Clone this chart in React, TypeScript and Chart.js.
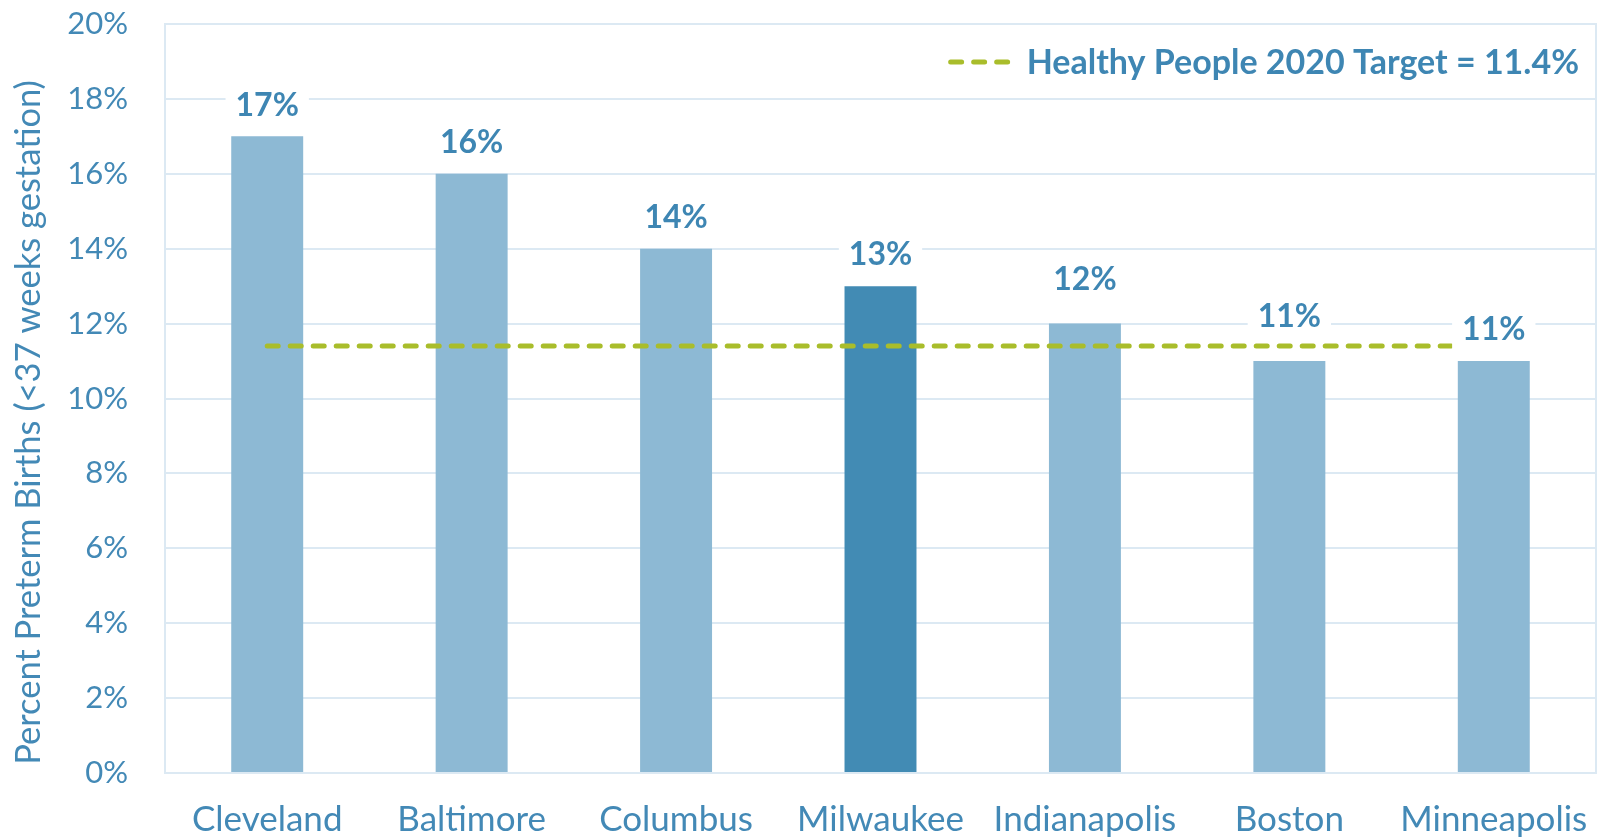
import React, { useEffect, useRef } from "react";
import { Chart, registerables } from "chart.js";

Chart.register(...registerables);

// ---- data ----
const CITIES = ["Cleveland", "Baltimore", "Columbus", "Milwaukee", "Indianapolis", "Boston", "Minneapolis"];
const PRETERM_PCT = [17, 16, 14, 13, 12, 11, 11];
const TARGET_PCT = 11.4;
const TARGET_LABEL = "Healthy People 2020 Target = 11.4%";
const HIGHLIGHT_CITY = "Milwaukee";
const Y_TITLE = "Percent Preterm Births (<37 weeks gestation)";
const Y_MIN = 0;
const Y_MAX = 20;
const Y_STEP = 2;

// ---- styles ----
const FONT = "Lato, 'Open Sans', 'DejaVu Sans', sans-serif";
const TEXT_COLOR = "#4389B6";
const LABEL_COLOR = "#3E86B3";
const BAR_LIGHT = "#8DB9D4";
const BAR_DARK = "#428BB4";
const GRID_COLOR = "#DCE9F3";
const TARGET_COLOR = "#A9BD2B";

const framePlugin = {
  id: "frame",
  beforeDatasetsDraw(chart: any) {
    const { ctx, chartArea } = chart;
    ctx.save();
    ctx.strokeStyle = GRID_COLOR;
    ctx.lineWidth = 2;
    ctx.strokeRect(chartArea.left, chartArea.top, chartArea.right - chartArea.left, chartArea.bottom - chartArea.top);
    ctx.restore();
  },
};

const yTitlePlugin = {
  id: "yTitle",
  afterDraw(chart: any) {
    const { ctx, chartArea } = chart;
    ctx.save();
    ctx.font = `34.5px ${FONT}`;
    ctx.fillStyle = TEXT_COLOR;
    ctx.textAlign = "center";
    ctx.textBaseline = "middle";
    const cy = (chartArea.top + chartArea.bottom) / 2 + 24;
    ctx.translate(29, cy);
    ctx.rotate(-Math.PI / 2);
    ctx.fillText(Y_TITLE, 0, 0);
    ctx.restore();
  },
};

const valueLabelPlugin = {
  id: "valueLabels",
  afterDatasetsDraw(chart: any, _args: any, opts: any) {
    const { ctx } = chart;
    const meta = chart.getDatasetMeta(0);
    const raised: string[] = opts.raised || [];
    ctx.save();
    ctx.font = `bold 32px ${FONT}`;
    ctx.textAlign = "center";
    ctx.textBaseline = "middle";
    meta.data.forEach((el: any, i: number) => {
      const v = chart.data.datasets[0].data[i];
      const text = `${v}%`;
      const lift = raised.includes(chart.data.labels[i]) ? opts.liftRaised : opts.lift;
      const cy = el.y - lift;
      const w = ctx.measureText(text).width;
      ctx.fillStyle = "#ffffff";
      ctx.fillRect(el.x - w / 2 - 10, cy - 21, w + 20, 44);
      ctx.fillStyle = LABEL_COLOR;
      ctx.fillText(text, el.x, cy);
    });
    ctx.restore();
  },
};

const legendPlugin = {
  id: "targetLegend",
  afterDraw(chart: any) {
    const { ctx, chartArea } = chart;
    ctx.save();
    ctx.font = `bold 34px ${FONT}`;
    const w = ctx.measureText(TARGET_LABEL).width;
    const right = chartArea.right - 17;
    const left = right - w;
    const y = chartArea.top + 38;
    ctx.fillStyle = LABEL_COLOR;
    ctx.textAlign = "left";
    ctx.textBaseline = "middle";
    ctx.fillText(TARGET_LABEL, left, y + 1);
    ctx.strokeStyle = TARGET_COLOR;
    ctx.lineWidth = 5;
    ctx.lineCap = "round";
    ctx.setLineDash([11, 12]);
    ctx.beginPath();
    ctx.moveTo(left - 76, y);
    ctx.lineTo(left - 14, y);
    ctx.stroke();
    ctx.restore();
  },
};

export default function App() {
  const ref = useRef<HTMLCanvasElement | null>(null);

  useEffect(() => {
    if (!ref.current) return;
    const chart = new Chart(ref.current, {
      type: "bar",
      data: {
        labels: CITIES,
        datasets: [
          {
            type: "bar",
            label: "Preterm births",
            data: PRETERM_PCT,
            backgroundColor: CITIES.map((c) => (c === HIGHLIGHT_CITY ? BAR_DARK : BAR_LIGHT)),
            categoryPercentage: 1,
            barPercentage: 0.352,
            order: 2,
          } as any,
          {
            type: "line",
            label: TARGET_LABEL,
            data: CITIES.map(() => TARGET_PCT),
            borderColor: TARGET_COLOR,
            borderWidth: 5,
            borderDash: [11, 12],
            borderCapStyle: "round",
            pointRadius: 0,
            fill: false,
            order: 1,
          } as any,
        ],
      },
      options: {
        responsive: false,
        animation: false,
        layout: { padding: { top: 24, right: 3, left: 0, bottom: 0 } },
        plugins: {
          legend: { display: false },
          tooltip: { enabled: false },
          valueLabels: { raised: ["Indianapolis", "Boston"], lift: 31, liftRaised: 44 },
        } as any,
        scales: {
          x: {
            grid: { display: false, drawTicks: false },
            border: { display: false },
            ticks: { color: TEXT_COLOR, font: { family: FONT, size: 35 }, padding: 26, maxRotation: 0, autoSkip: false },
            afterFit: (s: any) => {
              s.height = 65;
              s.paddingLeft = 0;
              s.paddingRight = 0;
            },
          },
          y: {
            min: Y_MIN,
            max: Y_MAX,
            grid: { color: GRID_COLOR, lineWidth: 2, drawTicks: false },
            border: { display: false },
            ticks: {
              stepSize: Y_STEP,
              color: TEXT_COLOR,
              font: { family: FONT, size: 31 },
              padding: 37,
              callback: (v: any) => `${v}%`,
            },
            title: { display: false },
            afterFit: (s: any) => {
              s.width = 165;
              s.paddingTop = 0;
              s.paddingBottom = 0;
            },
          },
        },
      },
      plugins: [framePlugin, valueLabelPlugin, legendPlugin, yTitlePlugin],
    });
    return () => chart.destroy();
  }, []);

  return (
    <div style={{ position: "absolute", left: 0, top: 0, width: 1599, height: 838, background: "#fff" }}>
      <canvas ref={ref} width={1599} height={838} />
    </div>
  );
}
